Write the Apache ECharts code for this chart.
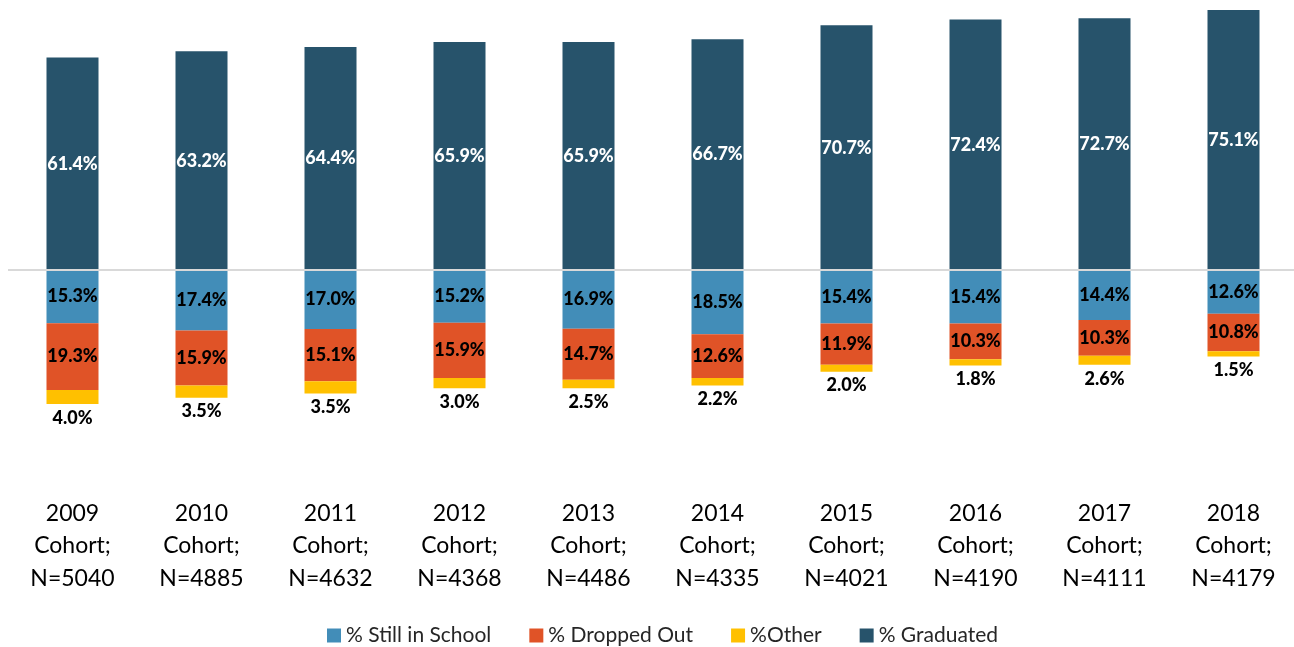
<!DOCTYPE html>
<html>
<head>
<meta charset="utf-8">
<script src="https://cdn.jsdelivr.net/npm/echarts@6/dist/echarts.min.js"></script>
<style>
  html, body { margin: 0; padding: 0; background: #fff; }
  #chart { width: 1294px; height: 647px; }
</style>
</head>
<body>
<div id="chart"></div>
<script>
// cohort data, percent of each cohort
var years = ['2009', '2010', '2011', '2012', '2013', '2014', '2015', '2016', '2017', '2018'];
var cohortN = [5040, 4885, 4632, 4368, 4486, 4335, 4021, 4190, 4111, 4179];
var graduated = [61.4, 63.2, 64.4, 65.9, 65.9, 66.7, 70.7, 72.4, 72.7, 75.1];
var stillInSchool = [15.3, 17.4, 17.0, 15.2, 16.9, 18.5, 15.4, 15.4, 14.4, 12.6];
var droppedOut = [19.3, 15.9, 15.1, 15.9, 14.7, 12.6, 11.9, 10.3, 10.3, 10.8];
var other = [4.0, 3.5, 3.5, 3.0, 2.5, 2.2, 2.0, 1.8, 2.6, 1.5];

var categories = years.map(function (y, i) {
    return y + '\nCohort;\nN=' + cohortN[i];
});
function neg(arr) {
    return arr.map(function (v) { return -v; });
}
function pct(p) {
    return Math.abs(p.value).toFixed(1) + '%';
}

var FONT = 'Lato';
var chart = echarts.init(document.getElementById('chart'));

var labelBase = {
    show: true,
    formatter: pct,
    fontFamily: FONT,
    fontWeight: 900,
    fontSize: 18,
    color: '#000'
};

var option = {
    animation: false,
    grid: { left: 8, width: 1290, top: 0, height: 478, outerBoundsMode: 'none' },
    legend: {
        top: 620,
        left: 322,
        itemWidth: 14,
        itemHeight: 14,
        itemGap: 38,
        icon: 'rect',
        textStyle: { fontFamily: FONT, fontSize: 21, color: '#262626' },
        data: ['% Still in School', '% Dropped Out', '%Other', '% Graduated']
    },
    xAxis: {
        type: 'category',
        data: categories,
        axisLine: { show: false, onZero: false },
        axisTick: { show: false },
        axisLabel: {
            margin: 19,
            fontFamily: FONT,
            fontSize: 23,
            lineHeight: 32.5,
            color: '#000',
            interval: 0
        }
    },
    yAxis: {
        type: 'value',
        min: -60,
        max: 78,
        show: false,
        splitLine: { show: false }
    },
    series: [
        {
            name: '% Graduated',
            type: 'bar',
            stack: 'total',
            barWidth: 52,
            data: graduated,
            itemStyle: { color: '#27536B' },
            label: Object.assign({}, labelBase, { position: 'inside', color: '#fff' }),
            markLine: {
                silent: true,
                symbol: 'none',
                label: { show: false },
                lineStyle: { color: '#d9d9d9', width: 2, type: 'solid' },
                data: [{ yAxis: 0 }]
            }
        },
        {
            name: '% Still in School',
            type: 'bar',
            stack: 'total',
            barWidth: 52,
            data: neg(stillInSchool),
            itemStyle: { color: '#428DB8' },
            label: Object.assign({}, labelBase, { position: 'inside' })
        },
        {
            name: '% Dropped Out',
            type: 'bar',
            stack: 'total',
            barWidth: 52,
            data: neg(droppedOut),
            itemStyle: { color: '#E05327' },
            label: Object.assign({}, labelBase, { position: 'inside' })
        },
        {
            name: '%Other',
            type: 'bar',
            stack: 'total',
            barWidth: 52,
            data: neg(other),
            itemStyle: { color: '#FFC000' },
            label: Object.assign({}, labelBase, { position: 'bottom', distance: 5 })
        }
    ]
};
chart.setOption(option);
</script>
</body>
</html>
